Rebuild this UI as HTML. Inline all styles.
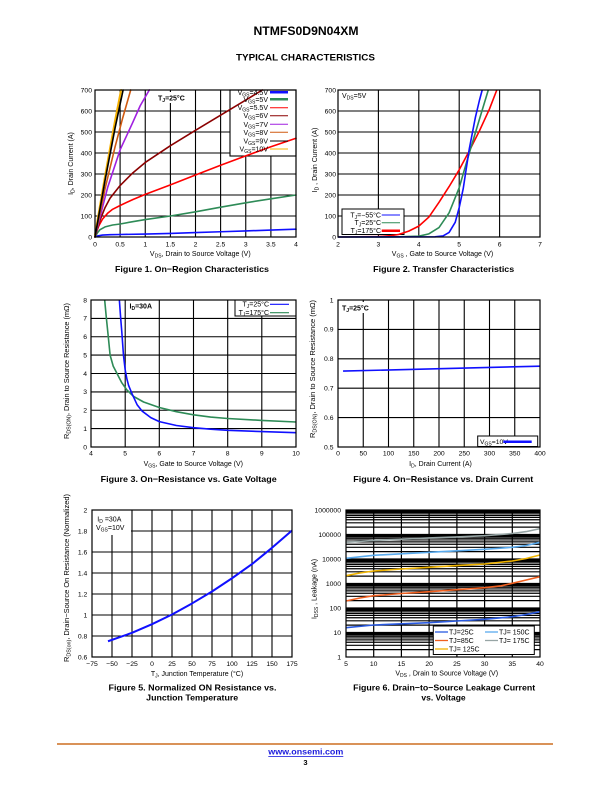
<!DOCTYPE html>
<html><head><meta charset="utf-8"><style>
html,body{margin:0;padding:0;background:#fff;}
svg{display:block;}
text{font-family:"Liberation Sans",Arial,sans-serif;}
</style></head><body>
<svg width="612" height="792" viewBox="0 0 612 792" xmlns="http://www.w3.org/2000/svg">
<rect width="612" height="792" fill="#fff"/>

<!-- Header -->
<text x="306" y="35" font-size="12" font-weight="bold" text-anchor="middle" textLength="105" lengthAdjust="spacingAndGlyphs">NTMFS0D9N04XM</text>
<text x="305.5" y="60.5" font-size="9" font-weight="bold" text-anchor="middle" textLength="139" lengthAdjust="spacingAndGlyphs">TYPICAL CHARACTERISTICS</text>

<!-- ================= FIGURE 1 ================= -->
<g fill="none" stroke="#000" stroke-width="1.1">
<path d="M120.1 90V237M145.25 90V237M170.4 90V237M195.5 90V237M220.6 90V237M245.75 90V237M270.9 90V237M95 216H296M95 195H296M95 174H296M95 153H296M95 132H296M95 111H296"/>
</g>
<rect x="157" y="92" width="29" height="11" fill="#fff"/>
<text x="158" y="100.5" font-size="7" font-weight="bold">T<tspan font-size="5" dy="1.5">J</tspan><tspan dy="-1.5">=25°C</tspan></text>
<rect x="230" y="90" width="66" height="66" fill="#fff" stroke="#000" stroke-width="1.1"/>
<g fill="none" stroke-width="1.6" stroke-linejoin="round" stroke-linecap="round">
<polyline stroke="#1010ff" points="95,237 97.5,235.95 102.5,235.1 110.1,234.7 120.1,234.5 145.25,234.06 170.4,233.4 195.5,232.6 220.6,231.75 245.75,230.9 270.9,230.1 296,229.2"/>
<polyline stroke="#2e8b57" points="95,237 97.5,232.8 100,229.65 105.05,226.9 112.6,225 120.1,224 132.7,221.7 145.25,219.6 170.4,216 195.5,211.8 220.6,207.2 245.75,202.8 270.9,198.8 296,195"/>
<polyline stroke="#ff0000" points="95,237 96.5,231.75 99,225.45 102.5,219.15 107.6,213.3 112.6,209.3 120.1,205.5 132.7,199.6 145.25,194.4 170.4,184.9 195.5,175.05 220.6,165.2 245.75,155.9 270.9,146.7 296,138.3"/>
<polyline stroke="#8b0000" points="95,237 97.5,228.6 100,220.2 105.05,207.6 110.1,198.15 120.1,185.55 132.7,172.95 145.25,162.45 170.4,145.65 195.5,130.3 220.6,115.2 245.75,100.1 262.3,90"/>
<polyline stroke="#a020e0" points="95,237 100,217.05 107.6,187.65 120.1,149.85 132.7,122.55 140.2,105.75 149.3,90"/>
<polyline stroke="#d05a10" points="95,237 105.05,188.7 115.1,146.7 122.6,118.35 130.7,90"/>
<polyline stroke="#f5b000" stroke-width="2" points="95,235 105.05,176.1 115.1,120.45 121.1,90"/>
<polyline stroke="#000" points="95,237 105.05,180.3 115.1,127.8 123.1,90"/>
</g>
<rect x="95" y="90" width="201" height="147" fill="none" stroke="#000" stroke-width="1.2"/>
<g font-size="7" text-anchor="end">
<text x="268" y="94.8">V<tspan font-size="5" dy="1.5">GS</tspan><tspan dy="-1.5">=4.5V</tspan></text>
<text x="268" y="101.8">V<tspan font-size="5" dy="1.5">GS</tspan><tspan dy="-1.5">=5V</tspan></text>
<text x="268" y="110.2">V<tspan font-size="5" dy="1.5">GS</tspan><tspan dy="-1.5">=5.5V</tspan></text>
<text x="268" y="118.2">V<tspan font-size="5" dy="1.5">GS</tspan><tspan dy="-1.5">=6V</tspan></text>
<text x="268" y="126.8">V<tspan font-size="5" dy="1.5">GS</tspan><tspan dy="-1.5">=7V</tspan></text>
<text x="268" y="134.8">V<tspan font-size="5" dy="1.5">GS</tspan><tspan dy="-1.5">=8V</tspan></text>
<text x="268" y="143.5">V<tspan font-size="5" dy="1.5">GS</tspan><tspan dy="-1.5">=9V</tspan></text>
<text x="268" y="151.5">V<tspan font-size="5" dy="1.5">GS</tspan><tspan dy="-1.5">=10V</tspan></text>
</g>
<g fill="none">
<path d="M270 92.3H288" stroke="#1010ff" stroke-width="2.5"/>
<path d="M270 99.3H288" stroke="#2e8b57" stroke-width="2.5"/>
<path d="M270 107.7H288" stroke="#ff0000" stroke-width="1"/>
<path d="M270 115.7H288" stroke="#8b0000" stroke-width="1"/>
<path d="M270 124.3H288" stroke="#a020e0" stroke-width="1"/>
<path d="M270 132.3H288" stroke="#d05a10" stroke-width="1"/>
<path d="M270 141H288" stroke="#000" stroke-width="1"/>
<path d="M270 149H288" stroke="#f5b000" stroke-width="1"/>
</g>
<g font-size="6.8" text-anchor="end">
<text x="92" y="239.3">0</text><text x="92" y="218.3">100</text><text x="92" y="197.3">200</text><text x="92" y="176.3">300</text><text x="92" y="155.3">400</text><text x="92" y="134.3">500</text><text x="92" y="113.3">600</text><text x="92" y="92.3">700</text>
</g>
<g font-size="6.8" text-anchor="middle">
<text x="95" y="246.5">0</text><text x="120.1" y="246.5">0.5</text><text x="145.25" y="246.5">1</text><text x="170.4" y="246.5">1.5</text><text x="195.5" y="246.5">2</text><text x="220.6" y="246.5">2.5</text><text x="245.75" y="246.5">3</text><text x="270.9" y="246.5">3.5</text><text x="296" y="246.5">4</text>
</g>
<text x="200.3" y="256" font-size="7" text-anchor="middle">V<tspan font-size="5" dy="1.5">DS</tspan><tspan dy="-1.5">, Drain to Source Voltage (V)</tspan></text>
<text transform="translate(73,163.5) rotate(-90)" font-size="7" text-anchor="middle">I<tspan font-size="5" dy="1.5">D</tspan><tspan dy="-1.5">, Drain Current (A)</tspan></text>
<text x="192" y="272" font-size="8.5" font-weight="bold" text-anchor="middle" textLength="154" lengthAdjust="spacingAndGlyphs">Figure 1. On−Region Characteristics</text>

<!-- ================= FIGURE 2 ================= -->
<g fill="none" stroke="#000" stroke-width="1.1">
<path d="M378.4 90V237M418.8 90V237M459.2 90V237M499.6 90V237M338 216H540M338 195H540M338 174H540M338 153H540M338 132H540M338 111H540"/>
</g>
<rect x="342" y="209" width="62" height="25.5" fill="#fff" stroke="#000" stroke-width="1"/>
<g fill="none" stroke-width="1.6" stroke-linejoin="round">
<polyline stroke="#ff0000" points="338,237 378.4,236.6 390.5,235.7 398.6,234.5 408.7,231.1 418.8,226.1 428.9,217.05 439,202.35 449.1,186.6 459.2,169.8 469.3,150.9 479.4,130.95 489.5,108.9 496.8,90"/>
<polyline stroke="#2e8b57" points="338,237 378.4,237 398.6,236.8 418.8,236.2 428.9,233.85 439,227.55 449.1,212.85 459.2,187.65 469.3,153 479.4,119.4 488.3,90"/>
<polyline stroke="#1010ff" points="338,237 435,236.8 443,235.95 449.1,232.4 455.2,222.3 459.2,207.6 463.2,188.7 469.3,148.8 475.4,117.3 479.4,100.5 482.2,90"/>
</g>
<rect x="338" y="90" width="202" height="147" fill="none" stroke="#000" stroke-width="1.2"/>
<text x="342" y="98" font-size="7">V<tspan font-size="5" dy="1.5">DS</tspan><tspan dy="-1.5">=5V</tspan></text>
<g font-size="7" text-anchor="end">
<text x="381" y="217.3">T<tspan font-size="5" dy="1.5">J</tspan><tspan dy="-1.5">=−55°C</tspan></text>
<text x="381" y="225">T<tspan font-size="5" dy="1.5">J</tspan><tspan dy="-1.5">=25°C</tspan></text>
<text x="381" y="233">T<tspan font-size="5" dy="1.5">J</tspan><tspan dy="-1.5">=175°C</tspan></text>
</g>
<path d="M381.7 215H400" stroke="#1010ff" stroke-width="1"/>
<path d="M381.7 222.7H400" stroke="#2e8b57" stroke-width="1"/>
<path d="M381.7 230.7H400" stroke="#ff0000" stroke-width="2.5"/>
<g font-size="6.8" text-anchor="end">
<text x="336" y="239.3">0</text><text x="336" y="218.3">100</text><text x="336" y="197.3">200</text><text x="336" y="176.3">300</text><text x="336" y="155.3">400</text><text x="336" y="134.3">500</text><text x="336" y="113.3">600</text><text x="336" y="92.3">700</text>
</g>
<g font-size="6.8" text-anchor="middle">
<text x="338" y="246.5">2</text><text x="378.4" y="246.5">3</text><text x="418.8" y="246.5">4</text><text x="459.2" y="246.5">5</text><text x="499.6" y="246.5">6</text><text x="540" y="246.5">7</text>
</g>
<text x="442.5" y="256" font-size="7" text-anchor="middle">V<tspan font-size="5" dy="1.5">GS</tspan><tspan dy="-1.5"> , Gate to Source Voltage (V)</tspan></text>
<text transform="translate(317,160) rotate(-90)" font-size="7" text-anchor="middle">I<tspan font-size="5" dy="1.5">D</tspan><tspan dy="-1.5"> , Drain Current (A)</tspan></text>
<text x="443.7" y="272" font-size="8.5" font-weight="bold" text-anchor="middle" textLength="141" lengthAdjust="spacingAndGlyphs">Figure 2. Transfer Characteristics</text>

<!-- ================= FIGURE 3 ================= -->
<g fill="none" stroke="#000" stroke-width="1.1">
<path d="M125.2 300V447M159.3 300V447M193.5 300V447M227.7 300V447M261.8 300V447M91 428.6H296M91 410.25H296M91 391.9H296M91 373.5H296M91 355.1H296M91 336.75H296M91 318.4H296"/>
</g>
<rect x="235" y="300" width="61" height="16" fill="#fff" stroke="#000" stroke-width="1"/>
<g fill="none" stroke-width="1.6" stroke-linejoin="round">
<polyline stroke="#2e8b57" points="104.67,300 106.4,318.4 108.1,334.9 110.1,355.1 113.2,366.15 117,373.5 121.75,382.7 126.9,390 133.7,396.5 143.6,402 159.3,407.5 176.4,411.7 193.5,414.8 210.6,417.05 227.7,418.5 261.8,420.4 296,422"/>
<polyline stroke="#1010ff" points="119.36,300 120.7,318.4 121.75,331.2 123.46,355.1 125.17,369.8 126.9,379 128.6,385.4 132,393.7 137.1,404.7 142.25,411.2 150.8,417.6 159.3,421.6 176.4,425.5 193.5,427.7 210.6,429.2 227.7,430.3 261.8,431.6 296,432.7"/>
</g>
<rect x="91" y="300" width="205" height="147" fill="none" stroke="#000" stroke-width="1.2"/>
<text x="129.5" y="308.5" font-size="7" font-weight="bold">I<tspan font-size="5" dy="1.5">D</tspan><tspan dy="-1.5">=30A</tspan></text>
<g font-size="7" text-anchor="end">
<text x="269" y="306.6">T<tspan font-size="5" dy="1.5">J</tspan><tspan dy="-1.5">=25°C</tspan></text>
<text x="269" y="315">T<tspan font-size="5" dy="1.5">J</tspan><tspan dy="-1.5">=175°C</tspan></text>
</g>
<path d="M270 304.3H289" stroke="#1010ff" stroke-width="1.2"/>
<path d="M270 312.7H289" stroke="#2e8b57" stroke-width="1.2"/>
<g font-size="6.8" text-anchor="end">
<text x="87" y="449.3">0</text><text x="87" y="430.9">1</text><text x="87" y="412.5">2</text><text x="87" y="394.2">3</text><text x="87" y="375.8">4</text><text x="87" y="357.4">5</text><text x="87" y="339">6</text><text x="87" y="320.7">7</text><text x="87" y="302.3">8</text>
</g>
<g font-size="6.8" text-anchor="middle">
<text x="91" y="455.5">4</text><text x="125.2" y="455.5">5</text><text x="159.3" y="455.5">6</text><text x="193.5" y="455.5">7</text><text x="227.7" y="455.5">8</text><text x="261.8" y="455.5">9</text><text x="296" y="455.5">10</text>
</g>
<text x="193.3" y="466" font-size="7" text-anchor="middle">V<tspan font-size="5" dy="1.5">GS</tspan><tspan dy="-1.5">, Gate to Source Voltage (V)</tspan></text>
<text transform="translate(69,371) rotate(-90)" font-size="7" text-anchor="middle" textLength="136" lengthAdjust="spacingAndGlyphs">R<tspan font-size="5" dy="1.5">DS(ON)</tspan><tspan dy="-1.5">, Drain to Source Resistance (mΩ)</tspan></text>
<text x="188.7" y="482" font-size="8.5" font-weight="bold" text-anchor="middle" textLength="176" lengthAdjust="spacingAndGlyphs">Figure 3. On−Resistance vs. Gate Voltage</text>

<!-- ================= FIGURE 4 ================= -->
<g fill="none" stroke="#000" stroke-width="1.1">
<path d="M363.25 300V447M388.5 300V447M413.75 300V447M439 300V447M464.25 300V447M489.5 300V447M514.75 300V447M338 417.6H540M338 388.2H540M338 358.8H540M338 329.4H540"/>
</g>
<rect x="341" y="302" width="30" height="11" fill="#fff"/>
<path d="M343.05 371.1L540 366.15" stroke="#1010ff" stroke-width="1.6" fill="none"/>
<rect x="338" y="300" width="202" height="147" fill="none" stroke="#000" stroke-width="1.2"/>
<text x="342" y="310.6" font-size="7" font-weight="bold">T<tspan font-size="5" dy="1.5">J</tspan><tspan dy="-1.5">=25°C</tspan></text>
<rect x="477.7" y="436" width="60" height="10.5" fill="#fff" stroke="#000" stroke-width="1"/>
<text x="480" y="443.8" font-size="6.8">V<tspan font-size="5" dy="1.5">GS</tspan><tspan dy="-1.5">=10V</tspan></text>
<path d="M503.3 441.7H531.7" stroke="#1010ff" stroke-width="2.5"/>
<g font-size="6.8" text-anchor="end">
<text x="333.5" y="449.3">0.5</text><text x="333.5" y="419.9">0.6</text><text x="333.5" y="390.5">0.7</text><text x="333.5" y="361.1">0.8</text><text x="333.5" y="331.7">0.9</text><text x="333.5" y="302.3">1</text>
</g>
<g font-size="6.8" text-anchor="middle">
<text x="338" y="455.5">0</text><text x="363.25" y="455.5">50</text><text x="388.5" y="455.5">100</text><text x="413.75" y="455.5">150</text><text x="439" y="455.5">200</text><text x="464.25" y="455.5">250</text><text x="489.5" y="455.5">300</text><text x="514.75" y="455.5">350</text><text x="540" y="455.5">400</text>
</g>
<text x="440.5" y="466" font-size="7" text-anchor="middle">I<tspan font-size="5" dy="1.5">D</tspan><tspan dy="-1.5">, Drain Current (A)</tspan></text>
<text transform="translate(315,369) rotate(-90)" font-size="7" text-anchor="middle" textLength="138" lengthAdjust="spacingAndGlyphs">R<tspan font-size="5" dy="1.5">DS(ON)</tspan><tspan dy="-1.5">, Drain to Source Resistance (mΩ)</tspan></text>
<text x="443.3" y="482" font-size="8.5" font-weight="bold" text-anchor="middle" textLength="180" lengthAdjust="spacingAndGlyphs">Figure 4. On−Resistance vs. Drain Current</text>

<!-- ================= FIGURE 5 ================= -->
<g fill="none" stroke="#000" stroke-width="1.1">
<path d="M112 510V657M132 510V657M152 510V657M172 510V657M192 510V657M212 510V657M232 510V657M252 510V657M272 510V657M92 636H292M92 615H292M92 594H292M92 573H292M92 552H292M92 531H292"/>
</g>
<rect x="92" y="510" width="39" height="25" fill="#fff"/>
<polyline fill="none" stroke="#1010ff" stroke-width="2" stroke-linejoin="round" points="108,641.25 120,637.05 132,632.85 152,624.2 172,614.5 192,603.45 212,591.5 232,578.25 252,564.1 272,547.8 292,530.5"/>
<rect x="92" y="510" width="200" height="147" fill="none" stroke="#000" stroke-width="1.2"/>
<text x="97.3" y="521.5" font-size="7">I<tspan font-size="5" dy="1.5">D</tspan><tspan dy="-1.5"> =30A</tspan></text>
<text x="96" y="529.8" font-size="7">V<tspan font-size="5" dy="1.5">GS</tspan><tspan dy="-1.5">=10V</tspan></text>
<g font-size="6.8" text-anchor="end">
<text x="87.3" y="659.3">0.6</text><text x="87.3" y="638.3">0.8</text><text x="87.3" y="617.3">1</text><text x="87.3" y="596.3">1.2</text><text x="87.3" y="575.3">1.4</text><text x="87.3" y="554.3">1.6</text><text x="87.3" y="533.3">1.8</text><text x="87.3" y="512.3">2</text>
</g>
<g font-size="6.8" text-anchor="middle">
<text x="92" y="665.8">−75</text><text x="112" y="665.8">−50</text><text x="132" y="665.8">−25</text><text x="152" y="665.8">0</text><text x="172" y="665.8">25</text><text x="192" y="665.8">50</text><text x="212" y="665.8">75</text><text x="232" y="665.8">100</text><text x="252" y="665.8">125</text><text x="272" y="665.8">150</text><text x="292" y="665.8">175</text>
</g>
<text x="197" y="676" font-size="7" text-anchor="middle">T<tspan font-size="5" dy="1.5">J</tspan><tspan dy="-1.5">, Junction Temperature (°C)</tspan></text>
<text transform="translate(69,578) rotate(-90)" font-size="7" text-anchor="middle" textLength="168" lengthAdjust="spacingAndGlyphs">R<tspan font-size="5" dy="1.5">DS(on)</tspan><tspan dy="-1.5">, Drain−Source On Resistance (Normalized)</tspan></text>
<text x="192.5" y="690.5" font-size="8.5" font-weight="bold" text-anchor="middle" textLength="168" lengthAdjust="spacingAndGlyphs">Figure 5. Normalized ON Resistance vs.</text>
<text x="192.2" y="700.5" font-size="8.5" font-weight="bold" text-anchor="middle" textLength="92" lengthAdjust="spacingAndGlyphs">Junction Temperature</text>

<!-- ================= FIGURE 6 ================= -->
<g fill="none" stroke="#000" stroke-width="1.2">
<path d="M373.7 510V657M401.4 510V657M429.1 510V657M456.9 510V657M484.6 510V657M512.3 510V657"/>
<path d="M346 649.63H540M346 645.31H540M346 642.25H540M346 639.88H540M346 637.94H540M346 636.3H540M346 634.87H540M346 633.62H540
M346 632.5H540M346 625.13H540M346 620.81H540M346 617.75H540M346 615.38H540M346 613.44H540M346 611.8H540M346 610.37H540M346 609.12H540
M346 608H540M346 600.63H540M346 596.31H540M346 593.25H540M346 590.88H540M346 588.94H540M346 587.3H540M346 585.87H540M346 584.62H540
M346 583.5H540M346 576.13H540M346 571.81H540M346 568.75H540M346 566.38H540M346 564.44H540M346 562.8H540M346 561.37H540M346 560.12H540
M346 559H540M346 551.63H540M346 547.31H540M346 544.25H540M346 541.88H540M346 539.94H540M346 538.3H540M346 536.87H540M346 535.62H540
M346 534.5H540M346 527.13H540M346 522.81H540M346 519.75H540M346 517.38H540M346 515.44H540M346 513.8H540M346 512.37H540M346 511.12H540"/>
</g>
<g fill="none" stroke-width="1.6" stroke-linejoin="round">
<polyline stroke="#97a5a5" points="346,542.3 373.7,540.4 401.4,539.2 429.1,537.9 456.9,536.95 484.6,535.7 512.3,533.5 526.2,531.6 540,528.6"/>
<polyline stroke="#5aabee" points="346,558.3 373.7,555.3 401.4,553.8 429.1,552.3 456.9,550.8 484.6,549.3 512.3,547.3 526.2,545.5 540,542.3"/>
<polyline stroke="#f0b400" points="346,575.7 359.9,573 373.7,571 401.4,569 429.1,567.3 456.9,565.6 484.6,564 512.3,561 526.2,558.5 540,555"/>
<polyline stroke="#f06020" points="346,601 359.9,598 373.7,595.7 401.4,593.5 429.1,591.7 456.9,589.7 484.6,587.7 501.2,585.8 512.3,583.3 526.2,580 540,576.7"/>
<polyline stroke="#2a5ae0" points="346,627.7 373.7,625 401.4,623.8 429.1,622.7 456.9,621 484.6,619.3 512.3,616.7 526.2,614.5 540,611.7"/>
</g>
<rect x="346" y="510" width="194" height="147" fill="none" stroke="#000" stroke-width="1.2"/>
<rect x="433.3" y="626" width="101" height="28.5" fill="#fff" stroke="#000" stroke-width="1"/>
<g font-size="7">
<text x="449" y="634.5">TJ=25C</text>
<text x="449" y="643">TJ=85C</text>
<text x="449" y="651.5">TJ= 125C</text>
<text x="499" y="634.5">TJ= 150C</text>
<text x="499" y="643">TJ= 175C</text>
</g>
<g stroke-width="1.3">
<path d="M435 632H448" stroke="#2a5ae0"/>
<path d="M435 640.5H448" stroke="#f06020"/>
<path d="M435 649H448" stroke="#f0b400"/>
<path d="M485 632H498" stroke="#5aabee"/>
<path d="M485 640.5H498" stroke="#97a5a5"/>
</g>
<g font-size="6.8" text-anchor="end">
<text x="341" y="512.3">1000000</text><text x="341" y="536.8">100000</text><text x="341" y="561.3">10000</text><text x="341" y="585.8">1000</text><text x="341" y="610.3">100</text><text x="341" y="634.8">10</text><text x="341" y="659.3">1</text>
</g>
<g font-size="6.8" text-anchor="middle">
<text x="346" y="665.8">5</text><text x="373.7" y="665.8">10</text><text x="401.4" y="665.8">15</text><text x="429.1" y="665.8">20</text><text x="456.9" y="665.8">25</text><text x="484.6" y="665.8">30</text><text x="512.3" y="665.8">35</text><text x="540" y="665.8">40</text>
</g>
<text x="446.7" y="675.5" font-size="7" text-anchor="middle">V<tspan font-size="5" dy="1.5">DS</tspan><tspan dy="-1.5"> , Drain to Source Voltage (V)</tspan></text>
<text transform="translate(316.5,589) rotate(-90)" font-size="7" text-anchor="middle">I<tspan font-size="5" dy="1.5">DSS</tspan><tspan dy="-1.5"> , Leakage (nA)</tspan></text>
<text x="444.2" y="690.5" font-size="8.5" font-weight="bold" text-anchor="middle" textLength="182" lengthAdjust="spacingAndGlyphs">Figure 6. Drain−to−Source Leakage Current</text>
<text x="443.5" y="700.5" font-size="8.5" font-weight="bold" text-anchor="middle">vs. Voltage</text>

<!-- Footer -->
<rect x="57" y="743.2" width="496" height="1.6" fill="#d0782f"/>
<text x="305.8" y="754.5" font-size="8.5" font-weight="bold" fill="#1a1adc" text-anchor="middle" textLength="75" lengthAdjust="spacingAndGlyphs">www.onsemi.com</text>
<rect x="268.3" y="756" width="75" height="0.8" fill="#1a1adc"/>
<text x="305.5" y="765" font-size="7.5" font-weight="bold" text-anchor="middle">3</text>
</svg>
</body></html>
